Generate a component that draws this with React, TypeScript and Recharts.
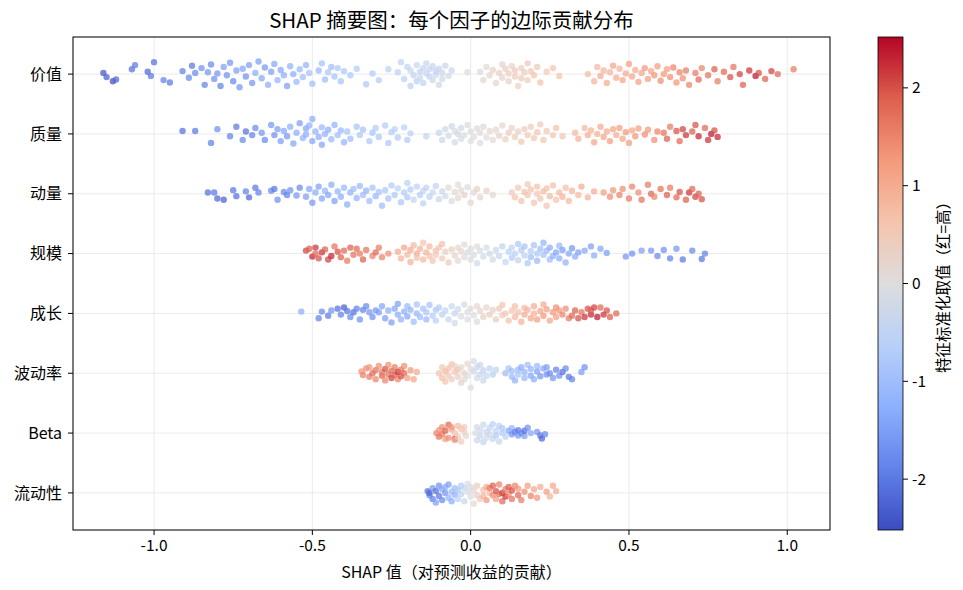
import React from 'react'
import { ScatterChart, Scatter, XAxis, YAxis, CartesianGrid } from 'recharts'

// factors, top to bottom
const factors = ['价值', '质量', '动量', '规模', '成长', '波动率', 'Beta', '流动性']
const xTicks = [-1, -0.5, 0, 0.5, 1]
const cbarTicks = [2, 1, 0, -1, -2]

// each point: [shap value, standardized feature value, vertical jitter]
const valuePts = [
  [-1.16,-2.4,0.02],[-1.15,-2.3,-0.05],[-1.13,-2.5,-0.12],[-1.12,-2.2,-0.09],[-1.07,-2.1,0.08],[-1.06,-2.0,0.15],[-1.02,-2.2,0.04],[-1.01,-2.0,-0.03],[-1.0,-2.1,0.2],[-0.97,-1.9,-0.1],[-0.95,-2.0,-0.14],[-0.91,-1.9,0.05],[-0.89,-1.8,-0.06],[-0.88,-2.0,0.14],[-0.87,-1.8,0.02],
  [-0.85,-1.7,0.1],[-0.84,-1.9,-0.18],[-0.83,-1.6,0.03],[-0.82,-1.8,0.16],[-0.81,-1.7,-0.08],[-0.8,-1.6,0.01],[-0.79,-1.9,-0.2],[-0.78,-1.5,0.12],[-0.77,-1.7,-0.02],[-0.76,-1.6,0.19],[-0.75,-1.8,-0.12],[-0.74,-1.5,0.06],[-0.73,-1.6,-0.22],[-0.72,-1.4,0.09],[-0.71,-1.7,-0.04],[-0.7,-1.5,0.15],[-0.69,-1.6,-0.15],[-0.68,-1.3,0.02],[-0.67,-1.5,0.21],[-0.66,-1.4,-0.07],[-0.65,-1.6,0.11],[-0.64,-1.3,-0.18],[-0.63,-1.5,0.04],[-0.62,-1.4,0.17],[-0.61,-1.2,-0.1],[-0.6,-1.4,0.07],[-0.59,-1.3,-0.02],[-0.58,-1.5,-0.2],[-0.57,-1.2,0.13],[-0.56,-1.3,0.0],[-0.55,-1.1,-0.13],
  [-0.54,-1.1,0.08],[-0.53,-1.0,-0.05],[-0.52,-1.2,0.15],[-0.51,-0.9,0.02],[-0.5,-1.0,-0.16],[-0.48,-1.1,0.06],[-0.47,-0.9,0.18],[-0.46,-1.0,-0.09],[-0.45,-0.8,0.03],[-0.44,-1.0,0.12],[-0.43,-0.9,-0.04],[-0.42,-0.8,0.1],[-0.41,-0.9,-0.12],[-0.4,-0.8,0.05],[-0.38,-0.8,-0.02],[-0.36,-0.7,0.09],
  [-0.33,-0.8,-0.17],[-0.31,-0.7,0.01],[-0.29,-0.7,-0.1],[-0.26,-0.6,0.08],
  [-0.23,-0.6,0.03],[-0.22,-0.5,0.2],[-0.21,-0.6,-0.08],[-0.2,-0.5,0.12],[-0.19,-0.6,-0.2],[-0.19,-0.4,0.06],[-0.18,-0.5,-0.02],[-0.17,-0.4,0.15],[-0.17,-0.6,-0.12],[-0.16,-0.5,0.04],[-0.16,-0.3,-0.06],[-0.15,-0.4,0.1],[-0.15,-0.5,-0.15],[-0.14,-0.4,0.01],[-0.14,-0.3,0.18],[-0.13,-0.5,-0.04],[-0.13,-0.4,0.08],[-0.12,-0.3,-0.1],[-0.12,-0.4,0.13],[-0.11,-0.3,-0.01],[-0.11,-0.5,0.05],[-0.1,-0.3,-0.18],[-0.1,-0.4,0.09],[-0.09,-0.3,0.02],[-0.09,-0.2,-0.08],[-0.08,-0.3,0.14],[-0.07,-0.2,-0.03],[-0.06,-0.3,0.06],
  [-0.01,0.0,0.03],
  [0.03,0.1,0.04],[0.04,0.2,-0.1],[0.05,0.1,0.12],[0.06,0.2,-0.02],[0.07,0.3,0.07],[0.08,0.2,-0.15],[0.09,0.3,0.02],[0.1,0.3,0.16],[0.1,0.2,-0.06],[0.11,0.4,0.09],[0.12,0.3,-0.12],[0.12,0.4,0.01],[0.13,0.3,0.13],[0.14,0.4,-0.04],[0.14,0.5,0.06],[0.15,0.3,-0.2],[0.16,0.4,0.1],[0.16,0.5,-0.07],[0.17,0.4,0.03],[0.18,0.5,0.18],[0.18,0.4,-0.1],[0.19,0.5,0.05],[0.2,0.6,-0.02],[0.21,0.5,0.12],[0.22,0.6,-0.14],[0.24,0.5,0.04],[0.26,0.6,0.1],[0.28,0.6,-0.03],
  [0.37,0.8,0.0],[0.39,0.9,-0.12],[0.4,0.8,0.12],[0.41,1.0,-0.03],[0.42,0.9,0.06],[0.43,1.0,-0.15],[0.44,0.9,0.03],[0.45,1.1,0.14],[0.46,1.0,-0.06],[0.47,0.9,0.09],[0.48,1.1,-0.1],[0.49,1.0,0.01],[0.5,1.2,0.17],[0.51,1.1,-0.04],[0.52,1.0,0.07],[0.53,1.2,-0.13],[0.54,1.1,0.02],[0.55,1.3,0.1],[0.56,1.2,-0.08],[0.57,1.1,0.05],[0.58,1.3,-0.02],[0.59,1.2,0.13],[0.6,1.4,-0.11],[0.61,1.3,0.0],[0.62,1.2,0.08],[0.63,1.4,-0.05],[0.64,1.5,0.11],[0.65,1.3,-0.14],[0.66,1.5,0.03],[0.67,1.4,-0.07],[0.68,1.6,0.06],[0.69,1.5,-0.18],
  [0.71,1.6,0.02],[0.72,1.8,-0.09],[0.73,1.5,0.1],[0.75,1.7,-0.02],[0.77,1.9,0.08],[0.78,1.6,-0.12],[0.8,1.8,0.04],[0.82,2.0,-0.05],[0.83,1.7,0.12],[0.85,2.1,0.0],[0.86,1.9,-0.18],[0.88,2.2,0.06],[0.9,2.4,-0.03],[0.91,2.0,0.02],[0.93,1.9,-0.08],[0.95,2.1,0.05],[0.97,1.8,0.0],[1.02,1.6,0.08],
]

const qualityPts = [
  [-0.91,-2.1,0.05],[-0.87,-2.0,0.05],[-0.82,-1.9,-0.15],[-0.8,-1.7,0.08],[-0.76,-1.9,-0.04],[-0.74,-2.0,0.12],[-0.72,-1.8,-0.1],[-0.71,-2.1,0.04],[-0.69,-1.9,-0.02],[-0.68,-1.8,0.1],
  [-0.66,-1.6,0.02],[-0.65,-1.8,-0.1],[-0.63,-1.6,0.15],[-0.62,-1.7,-0.02],[-0.61,-1.5,0.08],
  [-0.6,-1.5,-0.12],[-0.59,-1.4,0.05],[-0.58,-1.6,-0.04],[-0.57,-1.3,0.12],[-0.56,-1.4,-0.16],[-0.55,-1.3,0.02],[-0.54,-1.5,0.18],[-0.53,-1.2,-0.07],[-0.52,-1.4,0.09],[-0.52,-1.3,-0.01],[-0.51,-1.2,0.14],[-0.5,-1.4,-0.12],[-0.5,-1.3,0.25],[-0.49,-1.2,0.04],[-0.48,-1.3,-0.05],[-0.47,-1.1,0.11],[-0.47,-1.4,-0.18],[-0.46,-1.2,0.0],[-0.45,-1.3,0.07],[-0.44,-1.1,-0.09],[-0.43,-1.2,0.15],[-0.42,-1.0,-0.02],[-0.41,-1.1,0.06],[-0.4,-1.2,-0.14],
  [-0.39,-0.9,0.04],[-0.38,-1.0,-0.08],[-0.36,-0.9,0.12],[-0.35,-0.8,-0.02],[-0.34,-0.9,0.07],[-0.32,-0.8,-0.12],[-0.31,-0.9,0.02],[-0.3,-0.7,0.1],[-0.29,-0.8,-0.05],[-0.27,-0.7,0.14],[-0.26,-0.8,-0.15],[-0.25,-0.7,0.03],[-0.24,-0.6,0.08],[-0.23,-0.7,-0.06],[-0.21,-0.6,0.11],[-0.2,-0.7,-0.1],[-0.19,-0.6,0.01],
  [-0.14,-0.5,-0.04],
  [-0.1,-0.4,0.02],[-0.09,-0.3,-0.1],[-0.08,-0.3,0.08],[-0.07,-0.2,-0.03],[-0.06,-0.3,0.13],[-0.05,-0.2,-0.14],[-0.05,-0.1,0.05],[-0.04,-0.2,0.0],[-0.03,-0.1,-0.08],[-0.03,-0.2,0.1],[-0.02,0.0,-0.02],[-0.01,-0.1,0.15],[0.0,0.0,-0.12],[0.0,-0.1,0.04],[0.01,0.0,-0.05],[0.02,0.1,0.09],[0.03,0.0,-0.15],[0.03,0.1,0.02],[0.04,0.1,0.12],[0.05,0.0,-0.06],[0.06,0.2,0.05],[0.07,0.1,-0.1],
  [0.08,0.2,0.07],[0.09,0.3,-0.03],[0.1,0.2,0.14],[0.11,0.3,-0.09],[0.12,0.4,0.02],[0.13,0.3,0.1],[0.14,0.4,-0.05],[0.15,0.3,0.04],[0.16,0.5,-0.13],[0.17,0.4,0.08],[0.18,0.5,-0.02],[0.19,0.4,0.12],[0.2,0.5,-0.07],[0.21,0.6,0.03],[0.22,0.5,0.16],[0.23,0.6,-0.1],[0.24,0.5,0.05],[0.26,0.6,-0.02],[0.27,0.7,0.1],[0.29,0.6,-0.04],
  [0.33,0.8,0.02],[0.34,0.9,-0.08],[0.36,0.8,0.1],[0.37,1.0,-0.02],[0.38,0.9,0.06],[0.39,1.1,-0.14],[0.4,0.9,0.0],[0.41,1.0,0.12],[0.42,1.1,-0.05],[0.43,1.0,0.04],[0.44,1.2,-0.12],[0.45,1.1,0.08],[0.46,1.0,-0.02],[0.47,1.2,0.1],[0.48,1.1,-0.08],[0.49,1.3,0.03],[0.5,1.2,-0.15],[0.51,1.1,0.06],[0.52,1.3,-0.04],[0.53,1.2,0.09],[0.55,1.4,-0.01],[0.56,1.3,0.07],[0.58,1.4,-0.1],[0.59,1.5,0.04],
  [0.61,1.7,0.02],[0.62,1.9,-0.08],[0.63,1.6,0.12],[0.65,2.0,0.05],[0.66,1.8,-0.12],[0.67,2.1,0.08],[0.68,2.2,-0.02],[0.7,1.9,0.04],[0.71,2.0,0.15],[0.72,2.3,-0.04],[0.74,1.8,0.1],[0.75,2.2,-0.1],[0.76,2.4,0.0],[0.77,2.0,0.06],[0.78,2.3,-0.05],
]

const momentumPts = [
  [-0.83,-2.1,0.02],[-0.81,-2.0,0.02],[-0.8,-2.2,-0.08],[-0.78,-2.3,-0.1],[-0.75,-2.0,0.06],[-0.74,-2.1,-0.04],[-0.71,-1.9,0.04],[-0.7,-2.2,-0.06],[-0.68,-2.0,0.1],[-0.67,-1.9,0.02],
  [-0.63,-1.8,0.05],[-0.62,-2.0,0.08],[-0.61,-1.7,-0.1],[-0.59,-1.8,0.03],[-0.58,-1.9,-0.02],[-0.57,-1.7,0.06],[-0.55,-1.6,-0.03],[-0.54,-1.8,0.1],
  [-0.52,-1.5,-0.05],[-0.51,-1.4,0.08],[-0.5,-1.6,-0.15],[-0.49,-1.3,0.02],[-0.48,-1.5,0.12],[-0.47,-1.4,-0.08],[-0.46,-1.2,0.05],[-0.45,-1.4,-0.02],[-0.44,-1.3,0.15],[-0.43,-1.5,-0.12],[-0.42,-1.2,0.04],[-0.41,-1.3,-0.05],[-0.4,-1.1,0.1],[-0.39,-1.3,-0.18],[-0.38,-1.2,0.02],[-0.37,-1.0,0.08],[-0.36,-1.2,-0.07],[-0.35,-1.1,0.13],[-0.34,-1.0,-0.02],[-0.33,-1.2,0.05],[-0.32,-1.0,-0.12],[-0.31,-0.9,0.1],[-0.3,-1.1,-0.04],[-0.29,-0.9,0.03],[-0.28,-1.0,-0.2],
  [-0.27,-0.8,0.06],[-0.26,-0.9,-0.08],[-0.25,-0.7,0.14],[-0.24,-0.8,-0.02],[-0.23,-0.6,0.09],[-0.22,-0.8,-0.14],[-0.21,-0.7,0.02],[-0.2,-0.6,0.18],[-0.2,-0.8,-0.06],[-0.19,-0.7,0.07],[-0.18,-0.5,-0.1],[-0.17,-0.6,0.12],[-0.16,-0.7,-0.02],[-0.15,-0.5,0.05],[-0.15,-0.6,-0.16],[-0.14,-0.5,0.1],[-0.13,-0.6,-0.05],[-0.12,-0.4,0.02],[-0.11,-0.5,0.13],[-0.1,-0.4,-0.09],
  [-0.09,-0.3,0.04],[-0.08,-0.2,-0.04],[-0.07,0.1,0.1],[-0.06,-0.1,-0.12],[-0.05,0.2,0.03],[-0.04,0.0,0.15],[-0.04,0.2,-0.07],[-0.03,0.1,0.06],[-0.02,0.3,-0.02],[-0.01,0.0,0.11],[0.0,0.2,-0.15],[0.01,0.1,0.02],[0.02,0.3,0.08],[0.03,0.2,-0.06],[0.05,0.3,0.05],[0.07,0.2,-0.02],
  [0.13,0.5,0.02],[0.14,0.6,-0.06],[0.15,0.5,0.1],[0.16,0.6,-0.12],[0.17,0.7,0.03],[0.18,0.5,0.16],[0.18,0.6,-0.02],[0.19,0.7,0.07],[0.2,0.6,-0.15],[0.21,0.5,0.0],[0.21,0.7,0.12],[0.22,0.6,-0.08],[0.23,0.8,0.04],[0.24,0.6,-0.2],[0.24,0.7,0.09],[0.25,0.8,-0.04],[0.26,0.7,0.14],[0.27,0.6,-0.1],[0.28,0.8,0.02],[0.29,0.9,-0.05],[0.3,0.7,0.1],[0.31,0.8,-0.12],[0.32,0.9,0.05],[0.34,0.8,-0.02],[0.35,1.0,0.12],[0.37,0.9,-0.06],[0.39,1.0,0.04],
  [0.42,1.2,0.02],[0.44,1.4,-0.05],[0.45,1.3,0.06],[0.47,1.5,-0.02],[0.48,1.4,0.08],[0.5,1.6,-0.08],[0.51,1.5,0.12],[0.53,1.4,0.02],[0.54,1.7,-0.1],[0.56,1.6,0.15],[0.57,1.8,0.0],[0.58,1.5,-0.05],[0.6,1.7,0.08],[0.62,1.9,-0.02],[0.63,1.6,0.1],[0.65,1.8,-0.06],[0.66,2.0,0.03],[0.68,1.9,-0.1],[0.69,2.2,0.02],[0.7,1.8,0.08],[0.71,2.1,-0.05],[0.72,1.9,0.0],[0.73,2.0,-0.09],
]

const sizePts = [
  [-0.52,2.1,0.05],[-0.51,1.9,0.08],[-0.5,2.3,-0.05],[-0.49,2.2,0.1],[-0.49,1.8,0.0],[-0.48,2.0,-0.08],[-0.47,2.2,0.02],[-0.46,1.9,0.07],[-0.45,2.1,-0.1],[-0.44,2.3,-0.04],[-0.43,1.7,0.12],[-0.42,2.0,0.03],[-0.41,1.9,-0.06],[-0.4,1.8,0.05],[-0.39,1.6,-0.12],[-0.38,1.9,0.1],[-0.37,1.7,-0.02],[-0.36,1.8,0.08],[-0.35,1.6,0.0],[-0.34,1.9,-0.1],[-0.33,1.7,0.06],[-0.31,1.5,-0.04],[-0.3,1.8,0.02],[-0.29,1.6,0.1],[-0.28,1.5,-0.06],[-0.26,1.4,0.0],
  [-0.23,1.0,0.03],[-0.22,0.9,-0.08],[-0.21,1.1,0.1],[-0.2,0.8,-0.02],[-0.19,1.0,0.06],[-0.19,0.9,-0.14],[-0.18,0.8,0.14],[-0.17,1.0,0.0],[-0.17,0.7,-0.07],[-0.16,0.9,0.08],[-0.15,0.8,-0.1],[-0.15,0.6,0.18],[-0.14,0.9,0.02],[-0.13,0.7,-0.04],[-0.13,0.8,0.12],[-0.12,0.6,-0.12],[-0.11,0.7,0.05],[-0.11,0.5,-0.02],[-0.1,0.6,0.1],[-0.09,0.5,-0.08],[-0.09,0.7,0.16],[-0.08,0.4,0.03],[-0.07,0.5,-0.15],[-0.06,0.4,0.07],
  [-0.05,0.3,-0.03],[-0.04,0.2,0.1],[-0.04,0.1,-0.12],[-0.03,0.2,0.04],[-0.02,0.0,-0.06],[-0.02,0.1,0.15],[-0.01,-0.1,0.02],[0.0,0.0,-0.1],[0.0,0.1,0.08],[0.01,-0.1,-0.02],[0.02,0.0,0.12],[0.02,-0.2,-0.16],[0.03,-0.1,0.05],[0.04,-0.2,-0.05],[0.05,-0.1,0.1],[0.06,-0.3,0.0],[0.07,-0.2,-0.1],[0.08,-0.3,0.06],
  [0.09,-0.4,-0.04],[0.1,-0.5,0.12],[0.11,-0.4,-0.14],[0.12,-0.6,0.03],[0.13,-0.5,0.1],[0.13,-0.7,-0.07],[0.14,-0.6,0.0],[0.15,-0.8,0.16],[0.15,-0.5,-0.11],[0.16,-0.7,0.06],[0.17,-0.6,-0.03],[0.17,-0.9,0.12],[0.18,-0.8,-0.16],[0.19,-0.7,0.04],[0.19,-1.0,-0.06],[0.2,-0.9,0.14],[0.21,-0.8,0.0],[0.21,-1.1,-0.12],[0.22,-1.0,0.08],[0.23,-0.9,-0.02],[0.23,-1.2,0.18],[0.24,-1.1,0.05],[0.25,-1.0,-0.1],[0.25,-1.3,0.1],[0.26,-1.2,-0.04],[0.27,-1.4,0.02],[0.28,-1.1,0.13],[0.28,-1.3,-0.08],[0.29,-1.5,0.06],[0.3,-1.2,-0.15],[0.31,-1.4,0.0],[0.32,-1.6,0.09],[0.33,-1.3,-0.05],[0.34,-1.5,0.02],
  [0.36,-1.4,0.05],[0.38,-1.5,0.12],[0.39,-1.3,-0.03],[0.41,-1.4,0.08],[0.43,-1.5,0.01],
  [0.49,-1.6,-0.05],[0.51,-1.7,0.0],[0.54,-1.5,0.05],[0.57,-1.6,0.05],[0.59,-1.8,-0.04],[0.61,-1.7,0.06],[0.63,-1.9,-0.08],[0.65,-1.6,0.08],[0.67,-2.0,-0.1],[0.7,-1.8,0.05],[0.73,-2.0,-0.09],[0.74,-1.9,0.0],
]

const growthPts = [
  [-0.535,-1.3,0.03],
  [-0.48,-1.9,-0.08],[-0.47,-1.8,0.03],[-0.45,-2.0,-0.04],[-0.44,-1.7,0.05],[-0.42,-2.1,0.08],[-0.41,-1.9,-0.02],[-0.4,-2.3,0.1],[-0.39,-2.0,0.04],[-0.38,-1.8,-0.06],[-0.37,-2.1,0.02],[-0.36,-1.9,0.08],[-0.35,-1.7,-0.1],[-0.34,-1.9,0.06],[-0.33,-1.8,0.12],[-0.32,-1.6,0.02],[-0.31,-1.7,-0.06],[-0.3,-1.6,0.05],
  [-0.29,-1.5,0.02],[-0.28,-1.4,0.12],[-0.27,-1.5,-0.08],[-0.26,-1.3,0.05],[-0.25,-1.5,-0.15],[-0.24,-1.4,0.08],[-0.23,-1.3,-0.02],[-0.23,-1.5,0.16],[-0.22,-1.2,-0.1],[-0.21,-1.3,0.03],[-0.2,-1.1,0.12],[-0.2,-1.4,-0.05],[-0.19,-1.2,0.06],[-0.18,-1.0,-0.14],[-0.17,-1.1,0.0],[-0.17,-0.9,0.15],[-0.16,-1.0,-0.06],[-0.15,-0.9,0.08],[-0.14,-1.1,-0.1],[-0.14,-0.8,0.02],[-0.13,-0.9,0.14],[-0.12,-0.7,-0.04],[-0.11,-0.8,0.06],[-0.11,-0.6,-0.12],[-0.1,-0.7,0.1],[-0.09,-0.6,-0.02],[-0.08,-0.5,0.05],
  [-0.07,-0.4,-0.1],[-0.06,-0.3,0.12],[-0.05,-0.4,0.0],[-0.05,-0.2,-0.16],[-0.04,-0.3,0.07],[-0.03,-0.1,-0.05],[-0.02,-0.2,0.15],[-0.01,0.0,0.02],[-0.01,-0.1,-0.1],[0.0,0.1,0.08],[0.01,0.0,-0.03],[0.02,0.2,0.12],[0.02,0.1,-0.14],[0.03,0.2,0.04],[0.04,0.3,-0.06],[0.05,0.2,0.1],[0.06,0.4,-0.02],[0.07,0.3,0.06],
  [0.08,0.4,-0.1],[0.09,0.5,0.08],[0.1,0.4,-0.03],[0.1,0.6,0.14],[0.11,0.5,0.0],[0.12,0.7,-0.12],[0.13,0.6,0.05],[0.14,0.7,0.12],[0.14,0.8,-0.06],[0.15,0.7,0.02],[0.16,0.9,-0.14],[0.17,0.8,0.09],[0.17,1.0,-0.02],[0.18,0.9,0.06],[0.19,1.1,-0.08],[0.2,1.0,0.12],[0.2,0.9,0.0],[0.21,1.2,-0.1],[0.22,1.1,0.04],[0.23,1.0,0.15],[0.23,1.3,-0.04],[0.24,1.2,0.07],[0.25,1.1,-0.12],[0.26,1.3,0.02],[0.27,1.4,0.1],[0.27,1.2,-0.06],[0.28,1.3,0.05],[0.29,1.5,-0.02],[0.3,1.4,0.08],[0.31,1.6,-0.08],
  [0.32,1.8,-0.04],[0.33,1.9,0.05],[0.34,2.0,-0.08],[0.35,1.7,0.02],[0.36,2.2,-0.06],[0.37,2.0,0.08],[0.38,2.3,-0.02],[0.38,1.9,0.05],[0.39,2.1,0.1],[0.4,2.4,-0.06],[0.41,1.8,0.1],[0.42,2.2,-0.02],[0.43,2.0,0.05],[0.44,1.9,-0.06],[0.46,1.8,0.0],
]

const volPts = [
  [-0.345,1.3,0.03],[-0.34,1.5,-0.03],[-0.33,1.4,0.08],[-0.32,1.6,-0.06],[-0.32,1.3,0.1],[-0.31,1.8,0.0],[-0.3,1.5,-0.1],[-0.3,1.7,0.05],[-0.29,1.4,0.12],[-0.28,1.9,-0.04],[-0.28,1.6,0.02],[-0.27,1.5,-0.12],[-0.27,2.0,0.07],[-0.26,1.7,-0.02],[-0.26,1.4,0.14],[-0.25,1.8,0.04],[-0.25,2.1,-0.08],[-0.24,1.6,0.1],[-0.24,1.9,-0.03],[-0.23,2.2,0.02],[-0.23,1.5,-0.1],[-0.22,1.7,0.06],[-0.22,2.0,-0.05],[-0.21,1.4,0.12],[-0.21,1.8,0.0],[-0.2,1.2,-0.08],[-0.19,1.3,0.05],[-0.18,1.1,-0.1],[-0.17,1.0,0.02],
  [-0.1,0.6,0.0],[-0.09,0.7,-0.08],[-0.09,0.5,0.1],[-0.08,0.8,0.03],[-0.08,0.6,-0.14],[-0.07,0.7,0.08],[-0.07,0.5,-0.04],[-0.06,0.6,0.15],[-0.06,0.4,-0.1],[-0.05,0.5,0.02],[-0.05,0.3,0.12],[-0.04,0.4,-0.06],[-0.04,0.6,0.06],[-0.03,0.3,-0.16],[-0.03,0.2,0.1],[-0.02,0.3,0.0],[-0.02,0.1,-0.1],[-0.01,0.2,0.16],[-0.01,0.0,-0.04],[0.0,0.0,0.07],[0.0,-0.1,-0.24],[0.01,-0.2,0.03],[0.01,-0.1,0.2],[0.02,-0.2,-0.08],[0.02,-0.3,0.1],[0.03,-0.3,-0.02],[0.03,-0.4,0.14],[0.04,-0.3,-0.12],[0.04,-0.5,0.05],[0.05,-0.4,-0.04],[0.06,-0.5,0.08],[0.07,-0.6,-0.02],[0.08,-0.5,0.06],
  [0.11,-1.0,0.0],[0.12,-0.9,0.08],[0.13,-1.1,-0.06],[0.13,-1.0,0.04],[0.14,-1.2,-0.12],[0.15,-1.1,0.06],[0.15,-0.9,-0.02],[0.16,-1.3,0.1],[0.17,-1.1,-0.08],[0.17,-1.2,0.02],[0.18,-1.0,0.14],[0.19,-1.4,-0.04],[0.19,-1.2,0.07],[0.2,-1.3,-0.1],[0.21,-1.5,0.03],[0.21,-1.1,0.12],[0.22,-1.6,-0.05],[0.23,-1.4,0.08],[0.24,-1.7,-0.02],[0.24,-1.5,0.1],[0.25,-1.8,0.0],[0.26,-1.6,-0.08],[0.27,-1.9,0.06],[0.28,-1.7,-0.04],[0.29,-2.1,0.02],[0.3,-1.8,0.08],[0.31,-2.0,-0.06],[0.32,-1.9,-0.1],[0.35,-1.5,0.02],[0.36,-1.7,0.1],
]

const betaPts = [
  [-0.108,1.5,0.0],[-0.1,1.3,0.05],[-0.1,1.7,-0.06],[-0.09,1.4,0.1],[-0.09,1.6,-0.02],[-0.08,1.9,0.04],[-0.08,1.2,-0.1],[-0.07,1.8,0.14],[-0.07,1.4,-0.08],[-0.06,1.0,0.06],[-0.05,2.2,-0.1],[-0.06,1.3,0.1],[-0.05,0.9,-0.12],[-0.05,0.7,0.0],[-0.04,0.8,0.12],[-0.04,0.5,-0.06],[-0.03,0.6,0.07],[-0.03,0.4,-0.14],[-0.02,0.3,0.02],[-0.02,0.5,0.1],[-0.015,0.2,-0.05],
  [0.015,-0.1,0.0],[0.02,-0.2,0.1],[0.02,-0.3,-0.12],[0.03,-0.2,0.05],[0.03,-0.4,-0.05],[0.04,-0.3,0.14],[0.04,-0.5,-0.15],[0.05,-0.4,0.02],[0.05,-0.2,-0.08],[0.06,-0.5,0.09],[0.06,-0.3,-0.02],[0.07,-0.6,0.15],[0.07,-0.4,-0.1],[0.08,-0.5,0.04],[0.08,-0.7,-0.04],[0.09,-0.6,0.12],[0.09,-0.4,-0.14],[0.1,-0.7,0.0],[0.1,-0.8,0.08],[0.11,-0.6,-0.06],
  [0.12,-1.4,0.04],[0.13,-1.7,-0.02],[0.13,-1.2,0.08],[0.14,-1.9,0.02],[0.15,-1.6,-0.04],[0.15,-2.0,0.05],[0.16,-1.8,0.0],[0.17,-1.5,-0.05],[0.17,-2.1,0.04],[0.18,-1.7,0.09],[0.19,-1.4,0.0],[0.21,-1.6,0.02],[0.22,-2.0,-0.04],[0.225,-2.2,-0.09],[0.235,-1.8,-0.02],
]

const liquidityPts = [
  [-0.136,-2.0,0.03],[-0.13,-1.8,-0.04],[-0.13,-2.2,0.0],[-0.12,-1.6,0.08],[-0.12,-1.9,-0.1],[-0.11,-2.1,0.03],[-0.11,-1.5,-0.16],[-0.1,-1.7,0.12],[-0.1,-2.0,-0.05],[-0.09,-1.4,0.06],[-0.09,-1.8,-0.12],[-0.08,-1.3,0.1],[-0.08,-1.6,0.0],[-0.07,-1.2,-0.08],[-0.07,-1.5,0.14],[-0.06,-1.1,0.02],[-0.06,-1.3,-0.14],[-0.05,-1.0,0.08],[-0.05,-1.2,-0.03],
  [-0.04,-0.8,0.05],[-0.04,-0.6,-0.1],[-0.03,-0.7,0.12],[-0.03,-0.5,-0.02],[-0.02,-0.4,0.08],[-0.02,-0.3,-0.14],[-0.01,-0.2,0.02],[-0.01,-0.1,0.15],[0.0,0.0,-0.06],[0.0,-0.1,0.1],[0.01,0.1,-0.18],[0.01,0.2,0.04],[0.02,0.3,-0.04],[0.02,0.4,0.12],[0.03,0.5,-0.1],
  [0.04,0.7,0.05],[0.04,0.9,-0.05],[0.05,1.0,0.1],[0.05,1.3,-0.12],[0.06,0.8,0.0],[0.06,1.6,0.08],[0.07,1.4,-0.04],[0.07,1.9,0.12],[0.08,1.2,-0.1],[0.08,2.0,0.03],[0.09,1.7,-0.02],[0.09,1.5,0.14],[0.1,2.1,0.0],[0.1,1.8,-0.14],[0.11,1.6,0.06],[0.11,2.2,-0.06],[0.12,1.9,0.1],[0.12,1.4,-0.02],[0.13,2.0,0.04],[0.13,1.7,-0.1],[0.14,1.5,0.12],[0.15,1.8,-0.04],[0.15,1.3,0.07],[0.16,1.6,-0.12],[0.17,1.4,0.02],[0.18,1.2,0.12],[0.19,1.5,-0.05],[0.2,1.1,0.06],[0.21,1.3,-0.08],[0.22,1.0,0.1],[0.24,1.2,0.02],[0.25,0.9,-0.06],[0.26,1.1,0.12],[0.27,1.0,0.03],
]

const rows = [valuePts, qualityPts, momentumPts, sizePts, growthPts, volPts, betaPts, liquidityPts]

// coolwarm colormap
const stops = [
  [59, 76, 192], [98, 130, 234], [141, 176, 254], [184, 208, 249],
  [221, 221, 221], [245, 196, 173], [244, 154, 123], [222, 96, 77], [180, 4, 38],
]
const VMAX = 2.52
function coolwarm(v: number) {
  let t = (v + VMAX) / (2 * VMAX)
  t = Math.max(0, Math.min(1, t))
  const pos = t * (stops.length - 1)
  const i = Math.min(stops.length - 2, Math.floor(pos))
  const f = pos - i
  const c = stops[i].map((a, k) => Math.round(a + (stops[i + 1][k] - a) * f))
  return `rgb(${c[0]},${c[1]},${c[2]})`
}

const FONT = '"Noto Sans CJK SC", "Noto Sans", sans-serif'
const fmt = (v: number) => v.toFixed(1)

// plot box in pixels
const L = 73, T = 37, R = 830, B = 530
const CB_L = 878, CB_R = 903

export default function App() {
  return (
    <div style={{ position: 'absolute', left: 0, top: 0, width: 963, height: 590, background: '#fff', fontFamily: FONT }}>
      <ScatterChart width={963} height={590} margin={{ top: T, right: 963 - R, bottom: 30, left: L - 70 }}>
        <CartesianGrid stroke="#e6e6e6" strokeWidth={0.8} />
        <XAxis
          type="number"
          dataKey="x"
          domain={[-1.256, 1.135]}
          ticks={xTicks}
          tickFormatter={fmt}
          allowDataOverflow
          height={30}
          axisLine={false}
          tickLine={{ stroke: '#000' }}
          tickSize={5}
          tick={{ fill: '#000', fontSize: 15.5, fontFamily: FONT, dy: 3 }}
        />
        <YAxis
          type="number"
          dataKey="y"
          domain={[-0.62, 7.62]}
          ticks={[0, 1, 2, 3, 4, 5, 6, 7]}
          tickFormatter={(i: number) => factors[7 - i]}
          allowDataOverflow
          width={70}
          axisLine={false}
          tickLine={{ stroke: '#000' }}
          tickSize={5}
          tick={{ fill: '#000', fontSize: 16, fontFamily: FONT, dx: -4 }}
        />
        {rows.map((pts, r) => (
          <Scatter
            key={factors[r]}
            data={pts.map(([x, v, j]) => ({ x, y: 7 - r + j, v }))}
            isAnimationActive={false}
            shape={(p: any) => (
              <circle cx={p.cx} cy={p.cy} r={3.2} fill={coolwarm(p.payload.v)} fillOpacity={0.72} />
            )}
          />
        ))}
      </ScatterChart>
      <svg width={963} height={590} style={{ position: 'absolute', left: 0, top: 0, pointerEvents: 'none' }}>
        <defs>
          <linearGradient id="cbar" x1="0" y1="1" x2="0" y2="0">
            {stops.map((c, i) => (
              <stop key={i} offset={i / (stops.length - 1)} stopColor={`rgb(${c[0]},${c[1]},${c[2]})`} />
            ))}
          </linearGradient>
        </defs>
        <rect x={L} y={T} width={R - L} height={B - T} fill="none" stroke="#000" strokeWidth={1} />
        <text x={(L + R) / 2} y={28} textAnchor="middle" fontSize={20.5} fontFamily={FONT} fill="#000">
          SHAP 摘要图：每个因子的边际贡献分布
        </text>
        <text x={(L + R) / 2} y={578} textAnchor="middle" fontSize={16} fontFamily={FONT} fill="#000">
          SHAP 值（对预测收益的贡献）
        </text>
        <rect x={CB_L} y={T} width={CB_R - CB_L} height={B - T} fill="url(#cbar)" stroke="#000" strokeWidth={0.8} />
        {cbarTicks.map((t) => {
          const y = T + ((VMAX - t) / (2 * VMAX)) * (B - T)
          return (
            <g key={t}>
              <line x1={CB_R} x2={CB_R + 5} y1={y} y2={y} stroke="#000" />
              <text x={CB_R + 9} y={y + 5.5} fontSize={15.5} fontFamily={FONT} fill="#000">{t}</text>
            </g>
          )
        })}
        <text
          x={949}
          y={(T + B) / 2}
          transform={`rotate(-90 949 ${(T + B) / 2})`}
          textAnchor="middle"
          fontSize={15.5}
          fontFamily={FONT}
          fill="#000"
        >
          特征标准化取值（红=高）
        </text>
      </svg>
    </div>
  )
}
